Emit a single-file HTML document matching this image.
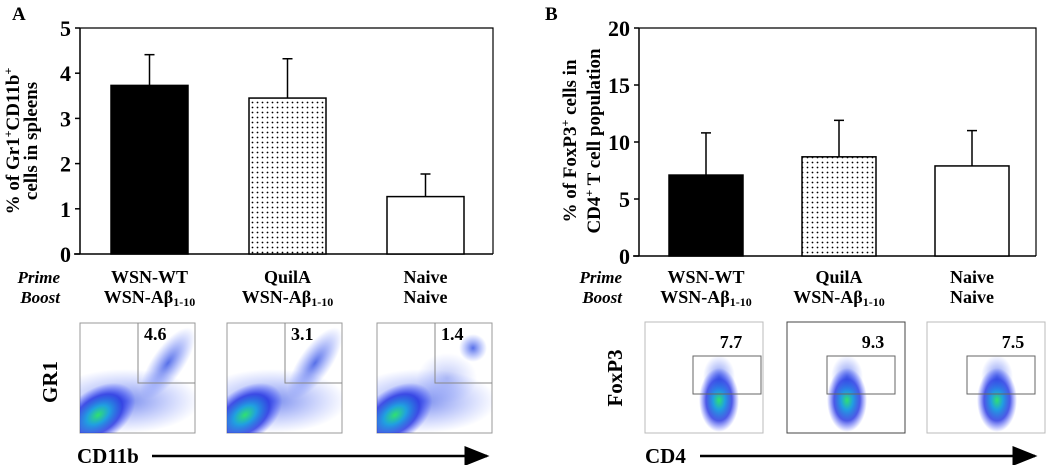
<!DOCTYPE html>
<html><head><meta charset="utf-8"><style>
body{margin:0;background:#fff}
svg{display:block;font-family:"Liberation Serif",serif}
</style></head><body>
<svg id="fig" width="1050" height="465" viewBox="0 0 1050 465" xmlns="http://www.w3.org/2000/svg">
<defs>
<pattern id="dots" width="5" height="5" patternUnits="userSpaceOnUse"><rect width="5" height="5" fill="#fff"/><circle cx="2.5" cy="2.5" r="0.9" fill="#000"/></pattern>
<radialGradient id="blob"><stop offset="0" stop-color="#30e070"/><stop offset="0.3" stop-color="#20a0e0"/><stop offset="0.65" stop-color="#2030e0" stop-opacity="0.8"/><stop offset="1" stop-color="#3040ff" stop-opacity="0"/></radialGradient>
<radialGradient id="blue"><stop offset="0" stop-color="#2040e0" stop-opacity="0.75"/><stop offset="1" stop-color="#4060ff" stop-opacity="0"/></radialGradient>
<marker id="arr" markerWidth="10" markerHeight="8" refX="9" refY="4" orient="auto"><path d="M0,0 L10,4 L0,8 Z" fill="#000"/></marker>
</defs>
<text x="12" y="20" font-size="19" font-weight="bold">A</text>
<text x="545" y="20" font-size="19" font-weight="bold">B</text>
<g id="chartA"></g>
<g id="chartB"></g>
<g id="flow"></g>
</svg>
<script>
const categories = ["WSN-WT|WSN-Aβ1-10", "QuilA|WSN-Aβ1-10", "Naive|Naive"];
const valuesA = [3.73, 3.45, 1.27];
const errorsA = [0.68, 0.87, 0.50];
const ticksA = [0, 1, 2, 3, 4, 5];
const valuesB = [7.1, 8.7, 7.9];
const errorsB = [3.7, 3.2, 3.1];
const ticksB = [0, 5, 10, 15, 20];
const flowA = ["4.6", "3.1", "1.4"];
const flowB = ["7.7", "9.3", "7.5"];

const NS = "http://www.w3.org/2000/svg";
function mk(parent, tag, attrs, text) {
  const e = document.createElementNS(NS, tag);
  for (const k in attrs) e.setAttribute(k, attrs[k]);
  if (text !== undefined) e.textContent = text;
  parent.appendChild(e);
  return e;
}
const fills = ["#000", "url(#dots)", "#fff"];

function chart(g, cfg) {
  const y = v => cfg.y0 - (v / cfg.max) * (cfg.y0 - cfg.y1);
  let e;
  e = mk(g, "line", {x1: cfg.x0, y1: cfg.y1, x2: cfg.x0, y2: cfg.y0, stroke: "#000", "stroke-width": 1.5});
  
  
  e = mk(g, "polyline", {points: `${cfg.x0},${cfg.y1} ${cfg.x2},${cfg.y1} ${cfg.x2},${cfg.y0}`, fill: "none", stroke: "#000", "stroke-width": 1.2});
  
  
  e = mk(g, "line", {x1: cfg.x0 - 6, y1: cfg.y0, x2: cfg.x2, y2: cfg.y0, stroke: "#000", "stroke-width": 1.5});
  
  
  cfg.ticks.forEach(t => {
    const ty = y(t);
    e = mk(g, "line", {x1: cfg.x0 - 5, y1: ty, x2: cfg.x0, y2: ty, stroke: "#000", "stroke-width": 1.5});
    
    
    e = mk(g, "text", {x: cfg.x0 - 9, y: ty + 8, "font-size": 22, "font-weight": "bold", "text-anchor": "end"}, t);
    
    
  });
  cfg.values.forEach((v, i) => {
    const bx = cfg.bars[i], cx = bx + cfg.bw / 2;
    const top = y(v + cfg.errors[i]);
    e = mk(g, "line", {x1: cx, y1: y(v), x2: cx, y2: top, stroke: "#000", "stroke-width": 1.5});
    
    
    e = mk(g, "line", {x1: cx - 5, y1: top, x2: cx + 5, y2: top, stroke: "#000", "stroke-width": 1.5});
    
    
    e = mk(g, "rect", {x: bx, y: y(v), width: cfg.bw, height: cfg.y0 - y(v), fill: fills[i], stroke: "#000", "stroke-width": 1.5});
    
    
    const parts = categories[i].split("|");
    e = mk(g, "text", {x: cx, y: 283, "font-size": 18, "font-weight": "bold", "text-anchor": "middle"}, parts[0]);
    
    
    const t2 = mk(g, "text", {x: cx, y: 303, "font-size": 18, "font-weight": "bold", "text-anchor": "middle"});
    
    
    const m = parts[1].match(/^(.*Aβ)(1-10)$/);
    if (m) { t2.textContent = m[1]; mk(t2, "tspan", {"font-size": 12, dy: 3}, m[2]); }
    else t2.textContent = parts[1];
  });
  e = mk(g, "text", {x: cfg.px, y: 283, "font-size": 17, "font-weight": "bold", "font-style": "italic", "text-anchor": "end"}, "Prime");
  
  
  e = mk(g, "text", {x: cfg.px, y: 303, "font-size": 17, "font-weight": "bold", "font-style": "italic", "text-anchor": "end"}, "Boost");
  
  
  const yt = mk(g, "text", {transform: `translate(${cfg.tx},141) rotate(-90)`, "font-size": 19, "font-weight": "bold", "text-anchor": "middle"});
  
  
  cfg.title(yt);
}

chart(document.getElementById("chartA"), {x0: 80, x2: 493, y0: 254, y1: 28, max: 5, ticks: ticksA, values: valuesA, errors: errorsA, bars: [111, 249, 387], bw: 77, px: 60, tx: 19,
  title: t => { t.innerHTML = '<tspan x="0" dy="0">% of Gr1<tspan font-size="12" dy="-7">+</tspan><tspan dy="7">CD11b</tspan><tspan font-size="12" dy="-7">+</tspan></tspan><tspan x="0" dy="25">cells in spleens</tspan>'; }});
chart(document.getElementById("chartB"), {x0: 639, x2: 1036, y0: 256, y1: 28, max: 20, ticks: ticksB, values: valuesB, errors: errorsB, bars: [669, 802, 935], bw: 74, px: 622, tx: 576,
  title: t => { t.innerHTML = '<tspan x="0" dy="0">% of FoxP3<tspan font-size="12" dy="-7">+</tspan><tspan dy="7"> cells in</tspan></tspan><tspan x="0" dy="24">CD4<tspan font-size="12" dy="-7">+</tspan><tspan dy="7"> T cell population</tspan></tspan>'; }});

// flow cytometry panels
const fg = document.getElementById("flow");
const defs = document.querySelector("defs");
let e;
const boxA = [80, 227, 377], boxB = [645, 787, 927];
boxA.forEach((x, i) => {
  const w = 115, y = 323, h = 110;
  const cp = mk(defs, "clipPath", {id: "ca" + i});
  mk(cp, "rect", {x, y, width: w, height: h});
  e = mk(fg, "rect", {x, y, width: w, height: h, fill: "#fff", stroke: "#999", "stroke-width": 1});
  
  
  const c = mk(fg, "g", {"clip-path": `url(#ca${i})`});
  mk(c, "ellipse", {cx: x + 45, cy: y + 78, rx: 75, ry: 32, fill: "url(#blue)", opacity: 0.8});
  mk(c, "ellipse", {cx: x + 18, cy: y + 92, rx: 42, ry: 26, fill: "url(#blob)", transform: `rotate(-35 ${x + 18} ${y + 92})`});
  if (i < 2) mk(c, "ellipse", {cx: x + 88, cy: y + 40, rx: 16, ry: 42, fill: "url(#blue)", transform: `rotate(35 ${x + 88} ${y + 40})`});
  else { mk(c, "ellipse", {cx: x + 96, cy: y + 25, rx: 14, ry: 14, fill: "url(#blue)"}); mk(c, "ellipse", {cx: x + 70, cy: y + 55, rx: 30, ry: 25, fill: "url(#blue)", opacity: 0.4}); }
  mk(fg, "polyline", {points: `${x + 58},${y} ${x + 58},${y + 60} ${x + w},${y + 60}`, fill: "none", stroke: "#888"});
  e = mk(fg, "text", {x: x + 64, y: y + 17, "font-size": 18, "font-weight": "bold"}, flowA[i]);
  
  
});
boxB.forEach((x, i) => {
  const w = 118, y = 322, h = 111;
  e = mk(fg, "rect", {x, y, width: w, height: h, fill: "#fff", stroke: i === 1 ? "#444" : "#bbb", "stroke-width": 1});
  
  
  const cx = x + (i === 0 ? 74 : i === 1 ? 60 : 70);
  mk(fg, "ellipse", {cx, cy: y + 78, rx: 20, ry: 32, fill: "url(#blob)"});
  mk(fg, "ellipse", {cx, cy: y + 55, rx: 16, ry: 22, fill: "url(#blue)", opacity: 0.8});
  mk(fg, "rect", {x: x + (i === 0 ? 48 : 40), y: y + 34, width: 68, height: 38, fill: "none", stroke: "#666"});
  e = mk(fg, "text", {x: x + 86, y: y + 26, "font-size": 18, "font-weight": "bold", "text-anchor": "middle"}, flowB[i]);
  
  
});
e = mk(fg, "text", {transform: "translate(57,382) rotate(-90)", "font-size": 21, "font-weight": "bold", "text-anchor": "middle"}, "GR1");


e = mk(fg, "text", {x: 77, y: 463, "font-size": 21, "font-weight": "bold"}, "CD11b");


e = mk(fg, "line", {x1: 152, y1: 456, x2: 487, y2: 456, stroke: "#000", "stroke-width": 2.5, "marker-end": "url(#arr)"});


e = mk(fg, "text", {transform: "translate(622,378) rotate(-90)", "font-size": 21, "font-weight": "bold", "text-anchor": "middle"}, "FoxP3");


e = mk(fg, "text", {x: 645, y: 463, "font-size": 21, "font-weight": "bold"}, "CD4");


e = mk(fg, "line", {x1: 700, y1: 456, x2: 1035, y2: 456, stroke: "#000", "stroke-width": 2.5, "marker-end": "url(#arr)"});


</script>
</body></html>
